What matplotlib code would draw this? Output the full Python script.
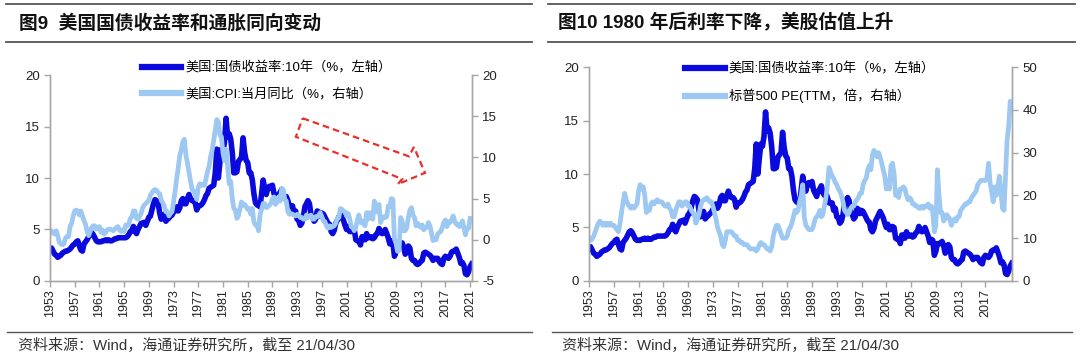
import numpy as np
import matplotlib
matplotlib.use("Agg")
import matplotlib.pyplot as plt
from matplotlib.lines import Line2D
from matplotlib.patches import Polygon

plt.rcParams['font.family'] = ['Liberation Sans', 'Noto Sans CJK SC', 'DejaVu Sans']
plt.rcParams['axes.unicode_minus'] = False

# quarterly data, 1953Q1 .. 2021Q1/Q2
ust10y = [
    3.1, 3.2, 2.9, 2.6,  2.5, 2.3, 2.4, 2.5,  2.7, 2.8, 2.9, 2.9,  3.0, 3.1, 3.3, 3.5,
    3.6, 3.8, 3.9, 3.4,  3.0, 2.9, 3.6, 3.8,  4.0, 4.3, 4.6, 4.7,  4.5, 4.2, 3.9, 3.8,
    3.8, 3.8, 3.9, 3.9,  4.0, 3.9, 4.0, 3.9,  3.9, 4.0, 4.1, 4.1,  4.2, 4.2, 4.2, 4.2,
    4.2, 4.2, 4.3, 4.5,  4.8, 4.9, 5.3, 4.8,  4.6, 5.0, 5.3, 5.6,  5.6, 5.7, 5.4, 5.8,
    6.2, 6.3, 6.9, 7.5,  7.9, 7.8, 7.6, 6.6,  6.0, 6.3, 6.5, 5.8,  6.0, 6.1, 6.3, 6.4,
    6.7, 6.8, 7.2, 6.8,  7.1, 7.8, 8.0, 7.5,  7.5, 8.0, 8.4, 8.0,  7.8, 7.8, 7.6, 6.9,
    7.3, 7.3, 7.4, 7.6,  7.9, 8.3, 8.5, 9.0,  9.1, 9.2, 9.3, 10.5, 12.8, 10.0, 11.5, 12.8,
    12.6, 13.5, 15.8, 14.0, 14.3, 13.8, 12.5, 10.5, 10.5, 10.6, 11.6, 11.8, 12.0, 13.9, 12.5, 11.7,
    11.5, 10.5, 10.5, 9.8,  8.5, 7.6, 7.4, 7.3,  7.2, 8.5, 9.8, 9.0,  8.4, 9.0, 9.2, 9.0,
    9.3, 8.5, 8.2, 7.9,  8.4, 8.6, 8.9, 8.3,  8.0, 8.2, 7.8, 7.3,  7.3, 7.3, 6.6, 6.8,
    6.0, 5.9, 5.4, 5.6,  6.2, 7.2, 7.5, 7.8,  7.5, 6.4, 6.2, 5.8,  6.0, 6.8, 6.7, 6.3,
    6.6, 6.5, 6.2, 5.9,  5.6, 5.5, 4.8, 4.6,  4.9, 5.6, 5.9, 6.2,  6.5, 6.2, 5.9, 5.4,
    5.0, 5.3, 4.8, 4.8,  5.1, 5.0, 4.0, 3.9,  3.9, 3.5, 4.3, 4.3,  4.0, 4.6, 4.2, 4.2,
    4.3, 4.1, 4.2, 4.5,  4.6, 5.1, 4.8, 4.6,  4.7, 5.0, 4.6, 4.2,  3.6, 3.9, 3.8, 2.4,
    2.8, 3.5, 3.5, 3.5,  3.7, 3.3, 2.6, 2.9,  3.4, 3.2, 2.2, 2.0,  2.0, 1.7, 1.6, 1.7,
    1.9, 2.0, 2.7, 2.8,  2.7, 2.6, 2.5, 2.3,  2.0, 2.2, 2.2, 2.2,  1.9, 1.7, 1.6, 2.2,
    2.4, 2.3, 2.2, 2.4,  2.8, 2.9, 2.9, 3.1,  2.7, 2.3, 1.7, 1.8,  1.5, 0.7, 0.6, 0.9,
    1.4, 1.65,
]

cpi_yoy = [
    0.8, 1.1, 0.8, 0.7,  1.1, 0.5, -0.3, -0.5,  -0.6, -0.5, 0.2, 0.4,  0.4, 1.6, 2.0, 2.9,
    3.5, 3.6, 3.5, 3.0,  3.5, 2.9, 2.3, 1.9,  1.0, 0.5, 1.0, 1.5,  1.7, 1.7, 1.3, 1.4,
    1.6, 0.9, 1.2, 0.7,  0.9, 1.2, 1.3, 1.3,  1.2, 1.1, 1.3, 1.5,  1.6, 1.2, 1.0, 1.2,
    1.0, 1.8, 1.7, 1.9,  2.6, 2.8, 3.5, 3.5,  2.6, 2.5, 2.8, 3.2,  3.9, 4.2, 4.4, 4.6,
    4.8, 5.4, 5.7, 6.0,  6.1, 6.0, 5.7, 5.6,  4.8, 4.5, 4.1, 3.4,  3.4, 2.9, 3.2, 3.4,
    4.6, 5.9, 7.4, 8.7,  10.2, 10.9, 11.9, 12.2,  10.3, 9.3, 8.2, 7.1,  6.1, 5.9, 5.5, 4.9,
    6.4, 6.8, 6.6, 6.7,  6.6, 7.4, 8.3, 8.9,  10.1, 10.9, 12.1, 13.3,  14.6, 14.3, 12.7, 12.5,
    10.5, 9.6, 11.0, 8.9,  6.8, 7.1, 5.0, 3.8,  3.6, 2.6, 2.9, 3.8,  4.6, 4.2, 4.3, 4.0,
    3.7, 3.8, 3.1, 3.8,  2.2, 1.8, 1.8, 1.1,  3.0, 3.7, 4.4, 4.4,  3.9, 4.0, 4.2, 4.4,
    5.0, 5.2, 4.3, 4.6,  5.2, 4.7, 6.2, 6.1,  4.9, 4.7, 3.4, 3.1,  3.2, 3.1, 3.0, 2.9,
    3.1, 3.0, 2.7, 2.7,  2.5, 2.5, 3.0, 2.7,  2.9, 3.0, 2.5, 2.5,  2.8, 2.8, 3.0, 3.3,
    2.8, 2.3, 2.2, 1.7,  1.4, 1.7, 1.5, 1.6,  1.7, 2.0, 2.6, 2.7,  3.8, 3.7, 3.5, 3.4,
    2.9, 3.2, 2.6, 1.6,  1.5, 1.1, 1.5, 2.4,  3.0, 2.1, 2.3, 1.9,  1.7, 3.3, 2.5, 3.3,
    3.1, 2.5, 4.7, 3.4,  3.4, 4.3, 2.1, 2.5,  2.8, 2.7, 2.8, 4.1,  4.0, 5.0, 4.9, 0.1,
    -0.4, -1.4, -1.3, 2.7,  2.3, 1.1, 1.1, 1.5,  2.7, 3.6, 3.9, 3.0,  2.7, 1.7, 2.0, 1.7,
    1.5, 1.8, 1.2, 1.5,  1.5, 2.1, 1.7, 0.8,  -0.1, 0.1, 0.0, 0.7,  0.9, 1.0, 1.5, 2.1,
    2.4, 1.6, 2.2, 2.1,  2.4, 2.9, 2.3, 1.9,  1.9, 1.6, 1.7, 2.3,  1.5, 0.6, 1.4, 1.4,
    2.6,
]

spx_pe = [
    10.0, 9.5, 9.8, 10.5,  11.5, 12.5, 13.5, 14.0,  13.5, 13.0, 13.5, 13.0,  13.5, 13.0, 13.5, 13.0,
    13.0, 12.5, 12.0, 11.5,  13.5, 16.0, 18.5, 20.5,  19.0, 18.0, 17.5, 17.0,  17.5, 17.0, 17.5, 18.0,
    21.0, 22.5, 21.5, 22.0,  20.0, 16.0, 16.5, 16.5,  18.0, 18.5, 18.0, 18.5,  19.0, 18.5, 18.5, 18.5,
    18.0, 17.5, 17.5, 18.0,  17.0, 16.5, 15.0, 15.0,  16.5, 17.5, 18.5, 18.5,  17.5, 18.0, 18.5, 18.5,
    17.5, 17.5, 16.5, 16.0,  15.5, 13.5, 14.5, 15.5,  17.5, 18.5, 19.0, 19.0,  19.5, 19.0, 18.5, 18.5,
    17.5, 16.0, 14.5, 12.5,  11.5, 10.5, 8.5, 8.0,  9.5, 11.5, 11.5, 11.5,  11.5, 11.0, 10.5, 10.5,
    9.5, 9.5, 9.0, 9.0,  8.5, 8.5, 8.5, 8.0,  7.5, 7.5, 7.5, 7.5,  7.0, 7.5, 8.5, 9.0,
    8.5, 8.5, 8.0, 7.5,  7.5, 7.0, 8.0, 10.5,  12.0, 13.0, 13.0, 12.0,  11.0, 10.0, 10.0, 10.0,
    10.5, 12.0, 12.5, 13.5,  15.0, 16.5, 16.0, 16.5,  18.5, 20.0, 22.5, 15.0,  13.0, 12.5, 12.0, 12.0,
    12.0, 13.0, 14.5, 15.0,  15.5, 16.5, 15.0, 15.5,  17.5, 19.5, 22.5, 26.5,  25.5, 24.5, 24.0, 23.0,
    22.5, 21.5, 21.0, 20.0,  18.5, 16.5, 16.0, 15.5,  16.0, 17.0, 17.5, 17.5,  18.5, 19.0, 19.5, 20.5,
    20.5, 22.5, 23.5, 24.0,  26.0, 27.0, 26.0, 29.5,  30.5, 30.0, 29.0, 30.0,  29.0, 27.5, 26.0, 24.5,
    21.5, 23.5, 21.5, 27.0,  27.5, 25.0, 20.0, 20.5,  19.5, 21.5, 21.5, 22.0,  21.5, 20.0, 19.0, 19.5,
    19.0, 18.0, 18.0, 17.5,  17.5, 17.0, 17.0, 17.5,  17.0, 17.5, 17.5, 18.0,  17.0, 17.5, 16.0, 11.5,
    13.0, 26.0, 20.0, 16.0,  16.0, 14.0, 14.5, 15.5,  15.0, 14.5, 13.0, 14.0,  14.5, 14.0, 15.0, 15.0,
    16.5, 17.0, 17.5, 18.0,  18.0, 18.5, 18.5, 19.5,  20.0, 20.5, 21.0, 22.5,  23.0, 23.5, 23.5, 23.5,
    23.5, 24.0, 27.5, 23.0,  21.0, 18.5, 22.0, 20.0,  22.0, 24.5, 21.0, 17.0,  16.5, 25.0, 33.0, 36.0,
    42.0, 41.0,
]

year_ticks = list(range(1953, 2022, 4))
left_title = '图9  美国国债收益率和通胀同向变动'
right_title = '图10 1980 年后利率下降，美股估值上升'
source = '资料来源：Wind，海通证券研究所，截至 21/04/30'
lbl_yield = '美国:国债收益率:10年（%，左轴）'
lbl_cpi = '美国:CPI:当月同比（%，右轴）'
lbl_pe = '标普500 PE(TTM，倍，右轴）'

DARK = '#0A0ADC'
LIGHT = '#9CC8F2'
GREY = '#A6A6A6'

t_y = 1953 + np.arange(len(ust10y)) / 4
t_c = 1953 + np.arange(len(cpi_yoy)) / 4
t_p = 1953 + np.arange(len(spx_pe)) / 4

fig = plt.figure(figsize=(10.8, 3.57), dpi=100)


def style(ax, ax2, ticks):
    for a in (ax, ax2):
        a.spines['top'].set_visible(False)
        for s in ('left', 'right', 'bottom'):
            a.spines[s].set_color(GREY)
            a.spines[s].set_linewidth(1.0)
        a.tick_params(axis='both', colors=GREY, labelcolor='#222222',
                      labelsize=9.5, length=4, width=1.0, direction='out')
    ax.set_xticks(ticks)
    ax.set_xticklabels([str(v) for v in ticks], rotation=90, fontsize=9)
    ax.tick_params(axis='x', pad=2)


# ---- left panel
ax1 = fig.add_axes([0.0463, 0.2129, 0.3907, 0.577])
ax1b = ax1.twinx()
ax1.plot(t_y, ust10y, color=DARK, lw=4.0)
ax1b.plot(t_c, cpi_yoy, color=LIGHT, lw=3.4)
ax1.set_xlim(1953, 2021.3)
ax1.set_ylim(0, 20)
ax1.set_yticks([0, 5, 10, 15, 20])
ax1b.set_ylim(-5, 20)
ax1b.set_yticks([-5, 0, 5, 10, 15, 20])
style(ax1, ax1b, year_ticks)

arrow_pts = [(1993.9, 15.8), (2011.1, 12.1), (2011.9, 13.0), (2013.7, 10.5),
             (2009.3, 9.4), (2010.0, 9.9), (1992.8, 14.0)]
ax1.add_patch(Polygon(arrow_pts, closed=True, fill=False, edgecolor='#E8302C',
                      lw=1.6, ls=(0, (3, 1.8)), zorder=5, clip_on=False))

h1 = [Line2D([], [], color=DARK, lw=4.5), Line2D([], [], color=LIGHT, lw=4.5)]
ax1b.legend(h1, [lbl_yield, lbl_cpi], loc='upper left', bbox_to_anchor=(0.205, 1.09),
            frameon=False, fontsize=9.5, handlelength=3.0, handletextpad=0.3,
            labelspacing=1.0, borderaxespad=0)

# ---- right panel
ax2 = fig.add_axes([0.5454, 0.2129, 0.3917, 0.5994])
ax2b = ax2.twinx()
ax2.plot(t_y, ust10y, color=DARK, lw=4.0)
ax2b.plot(t_p, spx_pe, color=LIGHT, lw=3.4)
ax2.set_xlim(1953, 2021.3)
ax2.set_ylim(0, 20)
ax2.set_yticks([0, 5, 10, 15, 20])
ax2b.set_ylim(0, 50)
ax2b.set_yticks([0, 10, 20, 30, 40, 50])
style(ax2, ax2b, year_ticks[:-1])

h2 = [Line2D([], [], color=DARK, lw=4.5), Line2D([], [], color=LIGHT, lw=4.5)]
ax2b.legend(h2, [lbl_yield, lbl_pe], loc='upper left', bbox_to_anchor=(0.215, 1.045),
            frameon=False, fontsize=9.5, handlelength=3.0, handletextpad=0.3,
            labelspacing=1.0, borderaxespad=0)

# ---- titles, rules, sources
W, H = 1080, 357
for x0, x1, tx, title in [(6, 532, 19, left_title), (548, 1075, 558, right_title)]:
    for py in (4, 42):
        fig.add_artist(Line2D([x0 / W, x1 / W], [1 - py / H, 1 - py / H],
                              color='#555555', lw=1.3))
    fig.text(tx / W, 1 - 23 / H, title, fontsize=13.5, fontweight='bold',
             va='center', ha='left', color='#111111')

for x0, x1, tx in [(7, 532, 18), (552, 1072, 562)]:
    fig.add_artist(Line2D([x0 / W, x1 / W], [1 - 332 / H, 1 - 332 / H],
                          color='#555555', lw=1.0))
    fig.text(tx / W, 1 - 346 / H, source, fontsize=10.8, va='center', ha='left',
             color='#333333')

fig.savefig('out.png', dpi=100)
